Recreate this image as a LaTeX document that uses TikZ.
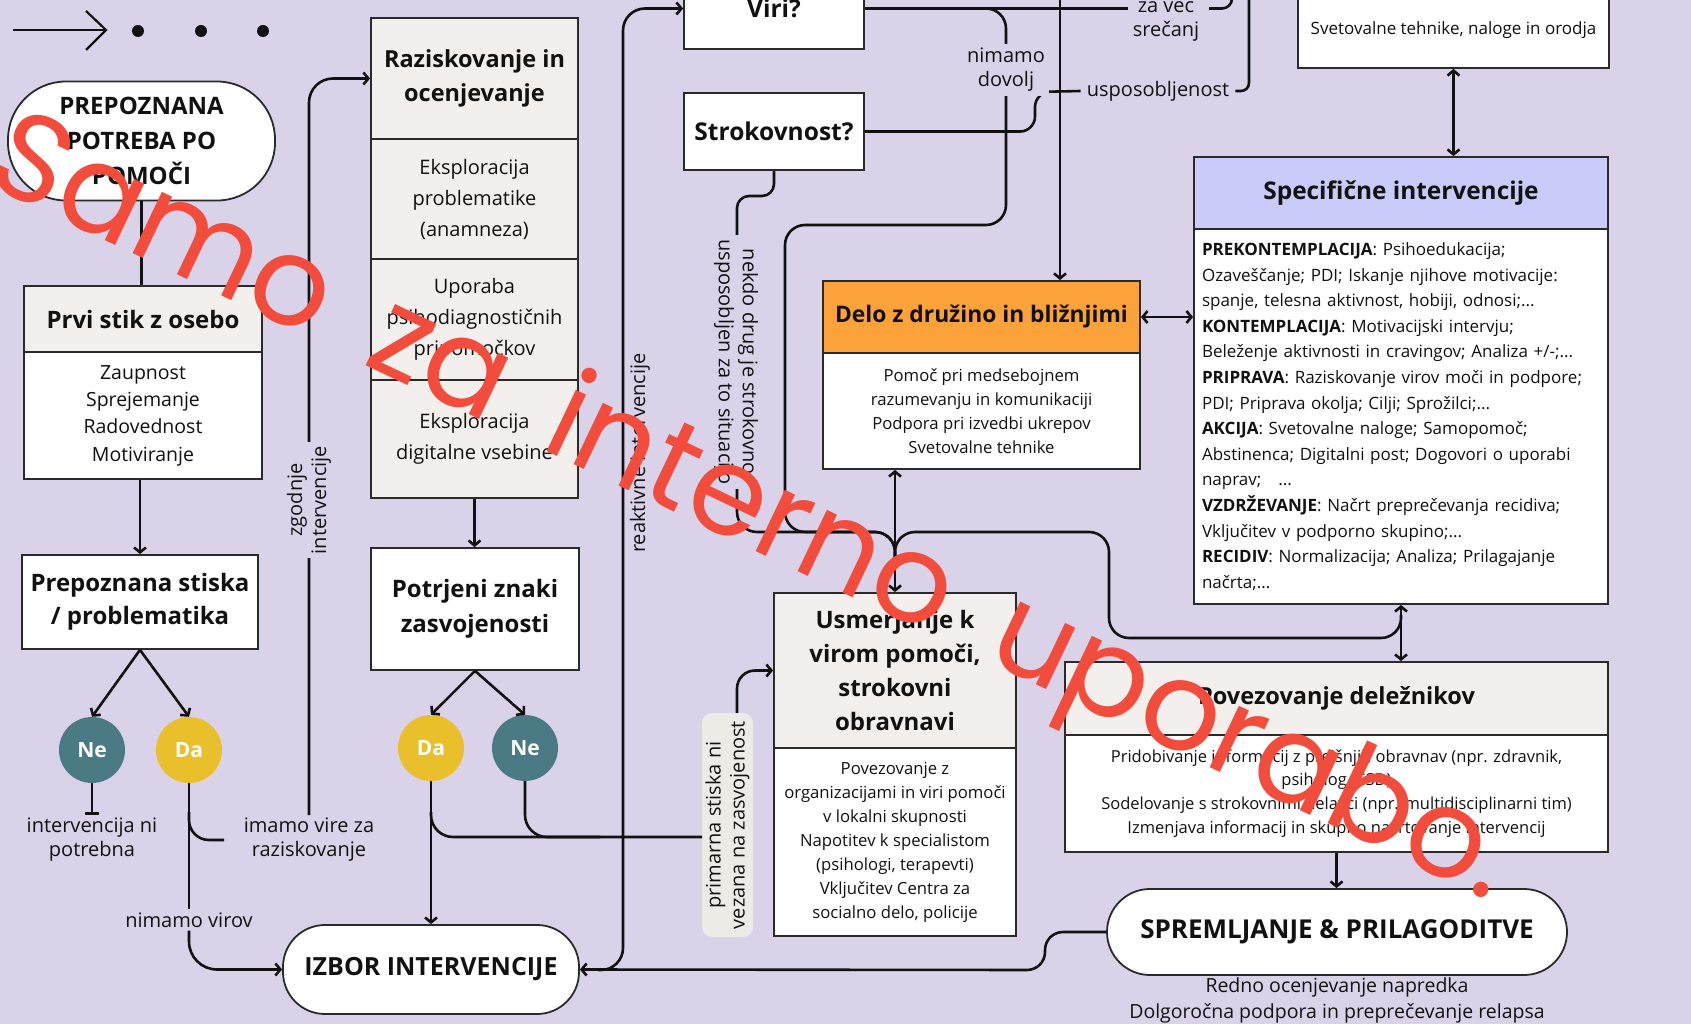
\documentclass[tikz,border=0pt]{standalone}
\usepackage{fontspec}
\setmainfont{Open Sans}
\newfontfamily\stampface{Poppins}
\usetikzlibrary{arrows.meta}

\definecolor{paper}{HTML}{D9D2E9}
\definecolor{ink}{HTML}{111111}
\definecolor{edge}{HTML}{2A2A2A}
\definecolor{sand}{HTML}{F3EFEC}
\definecolor{amber}{HTML}{FBA23A}
\definecolor{lilac}{HTML}{CACBFA}
\definecolor{tealc}{HTML}{4A7B84}
\definecolor{gold}{HTML}{E9BF2C}
\definecolor{tagc}{HTML}{EEEAE6}
\definecolor{stamp}{HTML}{F24C3D}

\newcommand\sz[2]{\fontsize{#1}{#2}\selectfont}
\newcommand\wsp{\hspace{0.45em}}

\begin{document}
\begin{tikzpicture}[x=1pt, y=-1pt,
  wire/.style={line width=2.6pt, draw=ink},
  link/.style={wire, -{Straight Barb[length=5pt,width=12pt]}},
  dlink/.style={wire, {Straight Barb[length=5pt,width=12pt]}-{Straight Barb[length=5pt,width=12pt]}},
  cell/.style 2 args={draw=edge, line width=1.8pt, minimum width=#1, minimum height=#2,
    inner sep=0pt, align=center, text=ink},
  pill/.style={rounded corners=42pt},
  lab/.style={font=\sz{20}{24}, align=center, text=ink, inner sep=0pt},
  gap/.style={fill=paper, inner sep=4pt},
  yn/.style={circle, minimum size=66pt, inner sep=0pt, text=white, font=\sz{21}{21}\bfseries},
  head/.style={font=\sz{24}{34}\bfseries},
]
\useasboundingbox (0,0) rectangle (1691,1024);
\fill[paper] (0,0) rectangle (1691,1024);
\begin{scope}
\clip (0,0) rectangle (1691,1024);

% ---------- start mark ----------
\coordinate (m0) at (13,30);
\coordinate (m1) at (106,30);
\draw[wire, line width=2.2pt] (m0) -- (m1);
\draw[wire, line width=2.2pt] (86,11) -- (m1) -- (86,50);
\foreach \xx in {138,201,263} \fill[ink] (\xx,31) circle (6pt);

% ---------- left column ----------
\node[cell={267}{119}, pill, rounded corners=58pt, fill=white, font=\sz{24}{35}\bfseries] (need) at (141.5,141) {PREPOZNANA\\POTREBA PO\\POMOČI};
\node[cell={238}{66}, fill=sand, head] (firsth) at (143,319) {Prvi stik z osebo};
\node[cell={238}{127}, fill=white, font=\sz{19.5}{27.3}] (firstb) at (143,415.5) {Zaupnost\\Sprejemanje\\Radovednost\\Motiviranje};
\node[cell={236}{94}, fill=white, font=\sz{24}{33}\bfseries] (distress) at (140,602) {Prepoznana stiska\\/ problematika};
\node[yn, fill=tealc] (no1) at (92,750) {Ne};
\node[yn, fill=gold] (yes1) at (189,750) {Da};
\node[lab] (notneeded) at (92,840) {intervencija ni\\potrebna};
\node[lab] (haveres) at (309,840) {imamo vire za\\raziskovanje};
\node[lab] (nores) at (189,920) {nimamo virov};

% ---------- assessment column ----------
\node[cell={207}{121}, fill=sand, font=\sz{23.5}{34}\bfseries] (rh) at (474.5,78.5) {Raziskovanje in\\ocenjevanje};
\node[cell={207}{120}, fill=sand, font=\sz{20}{31}] (r1) at (474.5,199) {Eksploracija\\problematike\\(anamneza)};
\node[cell={207}{121}, fill=sand, font=\sz{20}{31}] (r2) at (474.5,319.5) {Uporaba\\psihodiagnostičnih\\pripomočkov};
\node[cell={207}{118}, fill=sand, font=\sz{20}{31}] (r3) at (474.5,439) {Eksploracija\\digitalne vsebine};
\node[cell={208}{122}, fill=white, font=\sz{24}{35}\bfseries] (signs) at (475,609) {Potrjeni znaki\\zasvojenosti};
\node[yn, fill=gold] (yes2) at (431,748) {Da};
\node[yn, fill=tealc] (no2) at (525,748) {Ne};
\node[cell={296}{89}, pill, fill=white, font=\sz{25}{30}\bfseries] (choice) at (431,969.5) {IZBOR INTERVENCIJE};

% ---------- questions ----------
\node[cell={180}{81}, fill=white, font=\sz{24.5}{30}\bfseries] (res) at (774,8.5) {Viri?};
\node[cell={180}{77}, fill=white, font=\sz{24.5}{30}\bfseries] (exp) at (774,131.5) {Strokovnost?};
\node[lab] (moremeet) at (1166,19.5) {za več\\srečanj};
\node[lab] (training) at (1158,91) {usposobljenost};

% ---------- family work ----------
\node[cell={317}{72}, fill=amber, font=\sz{22.8}{30}\bfseries] (famh) at (981.5,317) {Delo z družino in bližnjimi};
\node[cell={317}{116}, fill=white, font=\sz{16.7}{24}] (famb) at (981.5,411) {Pomoč pri medsebojnem\\razumevanju in komunikaciji\\Podpora pri izvedbi ukrepov\\Svetovalne tehnike};

% ---------- referral ----------
\node[cell={242}{155}, fill=sand, font=\sz{24}{34.3}\bfseries] (refh) at (895,670.5) {Usmerjanje k\\virom pomoči,\\strokovni\\obravnavi};
\node[cell={242}{188}, fill=white, font=\sz{16.7}{24}] (refb) at (895,842) {Povezovanje z\\organizacijami in viri pomoči\\v lokalni skupnosti\\Napotitev k specialistom\\(psihologi, terapevti)\\Vključitev Centra za\\socialno delo, policije};
\node[fill=tagc, rounded corners=10pt, minimum width=51pt, minimum height=224pt, inner sep=0pt] (tag) at (727.5,825) {};
\node[lab, rotate=90] (tagtext) at (tag) {primarna stiska ni\\vezana na zasvojenost};

% ---------- right column ----------
\node[cell={311}{76}, fill=white, font=\sz{17}{24}] (tools) at (1453.5,30) {Svetovalne tehnike, naloge in orodja};
\node[cell={414}{72}, fill=lilac, font=\sz{24.4}{30}\bfseries] (spech) at (1401,193) {Specifične intervencije};
\node[cell={414}{375}, fill=white, text width=398pt, align=left, font=\sz{17}{25.6}] (specb) at (1401,416.5)
 {\textbf{PREKONTEMPLACIJA}: Psihoedukacija;\\
  Ozaveščanje; PDI; Iskanje njihove motivacije:\\
  spanje, telesna aktivnost, hobiji, odnosi;...\\
  \textbf{KONTEMPLACIJA}: Motivacijski intervju;\\
  Beleženje aktivnosti in cravingov; Analiza +/-;...\\
  \textbf{PRIPRAVA}: Raziskovanje virov moči in podpore;\\
  PDI; Priprava okolja; Cilji; Sprožilci;...\\
  \textbf{AKCIJA}: Svetovalne naloge; Samopomoč;\\
  Abstinenca; Digitalni post; Dogovori o uporabi\\
  naprav;\ \ \ ...\\
  \textbf{VZDRŽEVANJE}: Načrt preprečevanja recidiva;\\
  Vključitev v podporno skupino;...\\
  \textbf{RECIDIV}: Normalizacija; Analiza; Prilagajanje\\
  načrta;...};
\node[cell={543}{73}, fill=sand, font=\sz{23.5}{30}\bfseries] (stakh) at (1336.5,698.5) {Povezovanje deležnikov};
\node[cell={543}{117}, fill=white, font=\sz{16.5}{23.7}] (stakb) at (1336.5,793.5) {Pridobivanje informacij z prejšnjih obravnav (npr. zdravnik,\\psiholog, CSD)\\Sodelovanje s strokovnimi delavci (npr. multidisciplinarni tim)\\Izmenjava informacij in skupno načrtovanje intervencij};
\node[cell={460}{86}, pill, rounded corners=43pt, fill=white, font=\sz{26}{30}\bfseries] (follow) at (1337,932) {SPREMLJANJE \& PRILAGODITVE};
\node[lab, font=\sz{19.5}{26}] (followtxt) at (1337,1000) {Redno ocenjevanje napredka\\Dolgoročna podpora in preprečevanje relapsa};

% ---------- connectors: left ----------
\draw[wire] (need.south) -- (need.south |- firsth.north);
\draw[link] (distress.north |- firstb.south) -- (distress.north);
\draw[link] (distress.south) -- (no1.north);
\draw[link] (distress.south) -- (yes1.north);
\coordinate (stop) at (92,815);
\draw[wire, -{Bar[width=14pt]}] (no1.south) -- (stop);
\draw[wire] (yes1.south) -- ([yshift=3pt]nores.north);
\coordinate (br1) at (189,812);
\coordinate (br1e) at (224,840);
\draw[wire, rounded corners=20pt] (br1) |- (br1e);
\draw[link, rounded corners=24pt] ([yshift=3pt]haveres.north) |- (rh.west);
\draw[link, rounded corners=28pt] ([yshift=-3pt]nores.south) |- (choice.west);

% ---------- connectors: assessment ----------
\draw[link] (r3.south) -- (r3.south |- signs.north);
\draw[link] (signs.south) -- (yes2.north);
\draw[link] (signs.south) -- (no2.north);
\draw[link] (yes2.south) -- (choice.north);
\coordinate (br2) at (431,812);
\coordinate (tagin) at (702,837);
\draw[wire, rounded corners=22pt] (br2) |- (tagin);
\draw[wire, rounded corners=22pt] (no2.south) |- (600,837);
\draw[link, rounded corners=18pt] ([xshift=9.5pt]tag.north) |- (refh.west);

% reactive route up to the resources question
\coordinate (rk0) at (598,970);
\coordinate (rk) at (623,970);
\draw[link, rounded corners=22pt] (rk0) -- (rk) |- (res.west);
\draw[link, rounded corners=18pt] (follow.west) -- (1045,932) -- (1045,970) -- (choice.east);

% ---------- connectors: questions ----------
\coordinate (merge) at (895,560);
\draw[wire, rounded corners=20pt] (res.east) -- (1006,8.5) -- (1006,225) -- (785,225) -- (785,532) -- (895,532) -- (merge);
\draw[wire] (res.east) -- ([xshift=-5pt]moremeet.west |- res.east);
\draw[wire, rounded corners=10pt] (1209,8.5) -- (1232,8.5) -- (1232,-20);
\draw[wire, rounded corners=15pt] (exp.east) -- (1035,131.5) -- (1035,92) -- ([xshift=-6pt]training.west);
\draw[wire, rounded corners=8pt] ([xshift=6pt]training.east) -- (1249,91) -- (1249,-20);
\coordinate (topin) at (1060,-20);
\draw[link] (topin) -- (topin |- famh.north);
\draw[wire, rounded corners=12pt] (exp.south) -- (774,196) -- (737,196) [rounded corners=20pt] -- (737,532) -- (895,532) -- (merge);
\draw[wire, rounded corners=20pt] (1401,615) -- (1401,638) -- (1109,638) -- (1109,532) -- (895,532) -- (merge);

% ---------- connectors: two-way links ----------
\draw[dlink] (refh.north |- famb.south) -- (refh.north);
\draw[dlink] (famh.east) -- (famh.east -| specb.west);
\draw[dlink] (tools.south) -- (tools.south |- spech.north);
\draw[dlink] (specb.south) -- (specb.south |- stakh.north);
\draw[link] (stakb.south) -- (stakb.south |- follow.north);

% ---------- labels that interrupt lines ----------
\node[lab, gap, rotate=90] (early) at (309,500) {zgodnje\\intervencije};
\node[lab, rotate=90] (reactive) at (640,453) {reaktivne intervencije};
\node[lab, gap, rotate=-90] (other) at (736,362) {nekdo drug je strokovno\\usposobljen za to situacijo};
\node[lab, gap] (notenough) at (1006,70) {nimamo\\dovolj};

% ---------- stamp ----------
\node[rotate=-25.5, text=stamp, font=\stampface\sz{124}{124}, inner sep=0pt] (stampmark) at (750,514) {Samo\wsp za\wsp interno\wsp uporabo.};
\end{scope}
\end{tikzpicture}
\end{document}
